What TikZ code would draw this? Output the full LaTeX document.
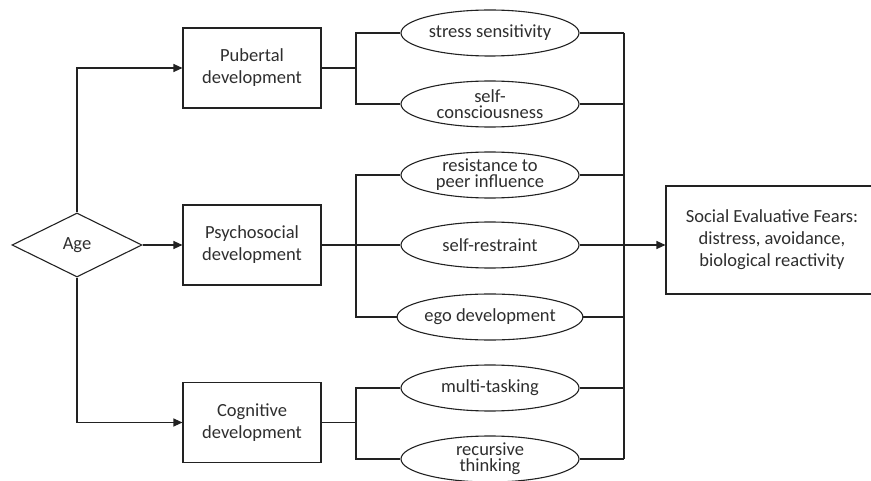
\documentclass[tikz,border=0pt]{standalone}
\usepackage{fontspec}
\setmainfont{Carlito}
\usetikzlibrary{shapes.geometric,arrows.meta}
\definecolor{ink}{HTML}{222222}
\definecolor{txt}{HTML}{2E2E2E}
\begin{document}
\begin{tikzpicture}[x=1pt,y=-1pt,
  every node/.style={font=\fontsize{18.5}{22}\selectfont, text=txt, align=center},
  conn/.style={draw=ink, line width=1.1pt},
  arr/.style={conn, -{Triangle[length=9pt,width=8pt]}},
  boxnode/.style={draw=ink, line width=1.1pt, rectangle, minimum width=138pt, minimum height=80pt, inner sep=0pt},
  ellnode/.style={draw=ink, line width=1.1pt, ellipse, minimum width=178pt, minimum height=46pt, inner sep=0pt, font=\fontsize{18.5}{16}\selectfont},
  agenode/.style={draw=ink, line width=1.1pt, diamond, aspect=2, minimum width=130pt, minimum height=64pt, inner sep=0pt}]
\useasboundingbox (0,0) rectangle (871,481);

\node[agenode] (age) at (77,245) {Age};

\node[boxnode] (pub) at (252,68) {Pubertal\\development};
\node[boxnode] (psy) at (252,245) {Psychosocial\\development};
\node[boxnode] (cog) at (252,422.5) {Cognitive\\development};

\node[ellnode] (e1) at (490,33) {stress sensitivity};
\node[ellnode] (e2) at (490,104) {self-\\consciousness};
\node[ellnode] (e3) at (490,175) {resistance to\\peer influence};
\node[ellnode] (e4) at (490,245) {self-restraint};
\node[ellnode] (e5) at (490,317) {ego development};
\node[ellnode] (e6) at (490,388) {multi-tasking};
\node[ellnode] (e7) at (490,459) {recursive\\thinking};

\node[boxnode, minimum width=212pt, minimum height=108pt] (sef) at (772,240) {Social Evaluative Fears:\\distress, avoidance,\\biological reactivity};

\coordinate (bL) at (356,0);
\coordinate (bR) at (624,0);

% Age to development boxes
\draw[arr] (age.north) |- (pub.west);
\draw[arr] (age.east) -- (psy.west);
\draw[arr] (age.south) |- (cog.west);

% Pubertal
\draw[conn] (pub.east) -- (pub.east -| bL);
\draw[conn] (e1.west) -- (e1.west -| bL) -- (e2.west -| bL) -- (e2.west);
% Psychosocial
\draw[conn] (psy.east) -- (e4.west);
\draw[conn] (e3.west) -- (e3.west -| bL) -- (e5.west -| bL) -- (e5.west);
% Cognitive
\draw[conn] (cog.east) -- (cog.east -| bL);
\draw[conn] (e6.west) -- (e6.west -| bL) -- (e7.west -| bL) -- (e7.west);

% Right bus
\foreach \e in {e1,e2,e3,e5,e6,e7}{\draw[conn] (\e.east) -- (\e.east -| bR);}
\draw[conn] (e1.east -| bR) -- (e7.east -| bR);
\draw[arr] (e4.east) -- (e4.east -| sef.west);
\end{tikzpicture}
\end{document}
